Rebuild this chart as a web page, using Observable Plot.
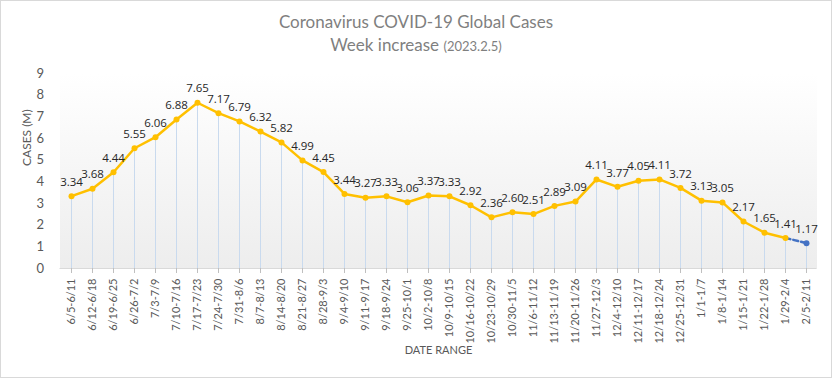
<!DOCTYPE html>
<html><head><meta charset="utf-8">
<script src="https://cdn.jsdelivr.net/npm/d3@7"></script>
<script src="https://cdn.jsdelivr.net/npm/@observablehq/plot@0.6"></script>
<style>
body{margin:0;background:#fff;}
#wrap{position:relative;width:832px;height:378px;overflow:hidden;}
#border{position:absolute;left:0;top:0;width:830px;height:376px;border:1px solid #d9d9d9;pointer-events:none;}
#title{position:absolute;left:0;top:10px;width:832px;text-align:center;font-family:Lato,"Open Sans",sans-serif;color:#7f7f7f;font-size:17px;line-height:23px;}
#title small{font-size:13px;}
</style>
</head><body>
<div id="wrap">
<div id="chart"></div>
<div id="title">Coronavirus COVID-19 Global Cases<br>Week increase <small>(2023.2.5)</small></div>
<div id="border"></div>
</div>
<script>
const weeks = ["6/5-6/11","6/12-6/18","6/19-6/25","6/26-7/2","7/3-7/9","7/10-7/16","7/17-7/23","7/24-7/30","7/31-8/6","8/7-8/13","8/14-8/20","8/21-8/27","8/28-9/3","9/4-9/10","9/11-9/17","9/18-9/24","9/25-10/1","10/2-10/8","10/9-10/15","10/16-10/22","10/23-10/29","10/30-11/5","11/6-11/12","11/13-11/19","11/20-11/26","11/27-12/3","12/4-12/10","12/11-12/17","12/18-12/24","12/25-12/31","1/1-1/7","1/8-1/14","1/15-1/21","1/22-1/28","1/29-2/4","2/5-2/11"];
const cases = [3.34,3.68,4.44,5.55,6.06,6.88,7.65,7.17,6.79,6.32,5.82,4.99,4.45,3.44,3.27,3.33,3.06,3.37,3.33,2.92,2.36,2.60,2.51,2.89,3.09,4.11,3.77,4.05,4.11,3.72,3.13,3.05,2.17,1.65,1.41,1.17];
const yTicks = [0,1,2,3,4,5,6,7,8,9];

const data = weeks.map((w, i) => ({week: w, value: cases[i]}));
const n = data.length;
const solid = data.slice(0, n - 1);
const projected = data.slice(n - 2);
const lastPt = data.slice(n - 1);

const chart = Plot.plot({
  width: 832, height: 378,
  marginLeft: 59.5, marginRight: 15.5, marginTop: 73, marginBottom: 110,
  style: {fontFamily: "Lato, 'Open Sans', sans-serif", background: "transparent"},
  x: {type: "point", domain: weeks, padding: 0.5, label: null},
  y: {domain: [0, 9], label: null},
  marks: [
    Plot.frame({fill: "url(#plotbg)", stroke: null}),
    Plot.ruleX(data, {x: "week", y1: 0, y2: "value", stroke: "#c9daee", strokeWidth: 1}),
    Plot.ruleY([0], {stroke: "#d9d9d9"}),
    Plot.axisX({tickRotate: -90, tickSize: 5, tickPadding: 5, fontSize: 11, fill: "#595959", stroke: "#bfbfbf", label: null}),
    Plot.axisY({ticks: yTicks, tickSize: 0, tickPadding: 16, fontSize: 13, fill: "#595959", label: null, tickFormat: d3.format("d")}),
    Plot.text(["DATE RANGE"], {frameAnchor: "bottom", dy: 85, fontSize: 11, fill: "#595959", letterSpacing: "0.5px"}),
    Plot.text(["CASES (M)"], {frameAnchor: "left", dx: -33, dy: -5, rotate: -90, fontSize: 12, fill: "#595959", letterSpacing: "0.5px"}),
    Plot.line(solid, {x: "week", y: "value", stroke: "#ffc000", strokeWidth: 2.5}),
    Plot.line(projected, {x: "week", y: "value", stroke: "#4472c4", strokeWidth: 2.5, strokeDasharray: "5,3"}),
    Plot.dot(solid, {x: "week", y: "value", r: 3, fill: "#ffc000"}),
    Plot.dot(lastPt, {x: "week", y: "value", r: 3, fill: "#4472c4"}),
    Plot.text(data, {x: "week", y: "value", text: d => d.value.toFixed(2), dy: -14, fontSize: 11.5, fill: "#262626", fontFamily: "'Open Sans', sans-serif"})
  ]
});

const ns = "http://www.w3.org/2000/svg";
const defs = document.createElementNS(ns, "defs");
defs.innerHTML = '<linearGradient id="plotbg" x1="0" y1="0" x2="0" y2="1"><stop offset="0" stop-color="#ffffff"/><stop offset="1" stop-color="#ededed"/></linearGradient>';
chart.insertBefore(defs, chart.firstChild);
document.getElementById("chart").appendChild(chart);
</script>
</body></html>
